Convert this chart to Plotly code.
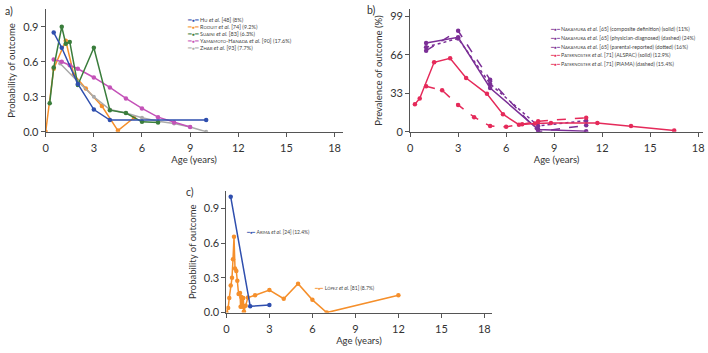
import plotly.graph_objects as go

# ---------------- Panel a data ----------------
hu_x = [0.5, 1, 2, 3, 4, 10]
hu_y = [0.85, 0.72, 0.41, 0.19, 0.10, 0.10]
roduit_x = [0, 0.5, 1.25, 1.75, 2.5, 3.5, 4.5, 5.5]
roduit_y = [0.0, 0.54, 0.78, 0.49, 0.37, 0.22, 0.01, 0.12]
suaini_x = [0.25, 0.5, 1, 1.25, 1.5, 2, 3, 4, 5, 6, 7]
suaini_y = [0.245, 0.55, 0.90, 0.755, 0.77, 0.40, 0.72, 0.185, 0.16, 0.085, 0.08]
yama_x = [0.5, 1, 1.5, 2, 3, 4, 5, 6, 7, 8, 9]
yama_y = [0.62, 0.60, 0.57, 0.54, 0.465, 0.38, 0.285, 0.20, 0.125, 0.08, 0.04]
zhab_x = [0.9, 2, 3, 4, 5, 6, 7, 8, 9, 10]
zhab_y = [0.585, 0.43, 0.30, 0.19, 0.16, 0.12, 0.09, 0.07, 0.04, 0.0]

# ---------------- Panel b data ----------------
nak_x = [1, 3, 5, 8, 11]
nak_composite = [76, 81, 37.5, 2, 0.5]
nak_physician = [69.5, 86.5, 44.5, 0, 5.5]
nak_parental = [72.5, 80, 41, 5, 9.5]
alspac_x = [0.3, 0.6, 1.5, 2.5, 3.5, 4.8, 5.8, 6.8, 7.8, 8.8, 11.7, 13.8, 16.5]
alspac_y = [23.5, 28.5, 59.5, 63, 46, 32.5, 15, 6, 7, 7.5, 7.5, 4.8, 1]
piama_x = [1, 2, 3, 4, 5, 6, 7, 8, 11]
piama_y = [39, 35.5, 23, 12.5, 4.8, 4.2, 6.5, 9, 12]

# ---------------- Panel c data ----------------
arima_x = [0.3, 1.66, 3]
arima_y = [1.0, 0.055, 0.065]
lopez_x = [0, 0.12, 0.2, 0.3, 0.39, 0.46, 0.53, 0.6, 0.69, 0.76, 0.85, 0.95, 0.99,
           1.04, 1.1, 1.18, 1.22, 1.34, 1.5, 2, 3, 4, 5, 6, 7, 12]
lopez_y = [0.0, 0.04, 0.127, 0.235, 0.30, 0.46, 0.655, 0.38, 0.36, 0.275, 0.16, 0.17, 0.05,
           0.135, 0.05, 0.127, 0.01, 0.06, 0.13, 0.15, 0.195, 0.12, 0.25, 0.11, 0.0, 0.15]

x_ticks = [0, 3, 6, 9, 12, 15, 18]
prob_ticks = [0.0, 0.3, 0.6, 0.9]
prev_ticks = [0, 33, 66, 99]

BLUE = "#2f4fae"
ORANGE = "#f58f2b"
GREEN = "#3a7d3c"
MAGENTA = "#c452b8"
GRAY = "#a9a9a9"
PURPLE = "#7b2f96"
RED = "#e52a5a"

FONT = "Lato, 'Source Sans Pro', sans-serif"
W, H = 708, 353


def sc(name, small):
    """Emulate small caps."""
    out = []
    for word in name.split("-"):
        out.append(word[0] + f"<span style='font-size:{small}px'>{word[1:].upper()}</span>")
    return "-".join(out)


def label(name, rest, small):
    return sc(name, small) + f" <i>et al.</i> {rest}"


fig = go.Figure()


def add(x, y, color, xa, ya, dash="solid", size=4.5, symbol="circle"):
    fig.add_trace(go.Scatter(
        x=x, y=y, mode="lines+markers", xaxis=xa, yaxis=ya,
        line=dict(color=color, width=1.5, dash=dash),
        marker=dict(color=color, size=size, symbol=symbol),
        showlegend=False, hoverinfo="x+y"))


# panel a
add(roduit_x, roduit_y, ORANGE, "x", "y")
add(zhab_x, zhab_y, GRAY, "x", "y", size=4)
add(yama_x, yama_y, MAGENTA, "x", "y")
add(suaini_x, suaini_y, GREEN, "x", "y")
add(hu_x, hu_y, BLUE, "x", "y")
# panel b
add(nak_x, nak_composite, PURPLE, "x2", "y2")
add(nak_x, nak_physician, PURPLE, "x2", "y2", dash="dash")
add(nak_x, nak_parental, PURPLE, "x2", "y2", dash="dot")
add(alspac_x, alspac_y, RED, "x2", "y2")
add(piama_x, piama_y, RED, "x2", "y2", dash="dash")
# panel c
add(lopez_x, lopez_y, ORANGE, "x3", "y3")
add(arima_x, arima_y, BLUE, "x3", "y3")


def px_x(px):
    return px / W


def px_y(py):
    return 1 - py / H


axis_common = dict(showline=True, linecolor="#555", linewidth=1, ticks="outside",
                   ticklen=4, tickcolor="#555", showgrid=False, zeroline=False,
                   ticklabeloverflow="allow",
                   tickfont=dict(size=11, color="#333", family=FONT),
                   title_font=dict(size=9.5, color="#333", family=FONT))
xa_extra = dict(ticklabelstandoff=2)

ya_dom = [px_y(134), px_y(9.4)]
fig.update_layout(
    width=W, height=H, margin=dict(l=0, r=0, t=0, b=0),
    paper_bgcolor="white", plot_bgcolor="white",
    font=dict(family=FONT, color="#333"),
    showlegend=False,
    xaxis=dict(domain=[px_x(43), px_x(342)], range=[0, 18.5], tickvals=x_ticks,
               anchor="y", title=dict(text="Age (years)", standoff=3), **axis_common, **xa_extra),
    yaxis=dict(domain=ya_dom, range=[0, 1.05], tickvals=prob_ticks, tickformat=".1f",
               anchor="x", title=dict(text="Probability of outcome", standoff=5), **axis_common),
    xaxis2=dict(domain=[px_x(410), px_x(705)], range=[0, 18.3], tickvals=x_ticks,
                anchor="y2", title=dict(text="Age (years)", standoff=3), **axis_common, **xa_extra),
    yaxis2=dict(domain=ya_dom, range=[0, 105], tickvals=prev_ticks,
                anchor="x2", title=dict(text="Prevalence of outcome (%)", standoff=5,
                                        font=dict(size=9)), **axis_common),
    xaxis3=dict(domain=[px_x(225), px_x(492)], range=[0, 18.5], tickvals=x_ticks,
                anchor="y3", title=dict(text="Age (years)", standoff=3), **axis_common, **xa_extra),
    yaxis3=dict(domain=[px_y(318), px_y(194.3)], range=[0, 1.05], tickvals=prob_ticks,
                tickformat=".1f", anchor="x3",
                title=dict(text="Probability of outcome", standoff=5), **axis_common),
)

# panel labels
for txt, x, y in [("a)", 0, 3), ("b)", 365, 2), ("c)", 182, 187)]:
    fig.add_annotation(text=txt, x=px_x(x), y=px_y(y), xref="paper", yref="paper",
                       xanchor="left", yanchor="top", showarrow=False,
                       font=dict(size=10.5, family=FONT, color="#333"))


# legend entries (annotation-based to match compact symbols)
def legend_entry(text, color, x, y, size):
    sym = f"<span style='color:{color}'>━<span style='font-size:{size-1}px'>●</span>━</span>"
    fig.add_annotation(text=sym + " " + text, x=px_x(x), y=px_y(y), xref="paper", yref="paper",
                       xanchor="left", yanchor="middle", showarrow=False,
                       font=dict(size=size, family=FONT, color="#444"))


leg_a = [
    ("Hu", "[48] (8%)", BLUE),
    ("Roduit", "[74] (9.2%)", ORANGE),
    ("Suaini", "[83] (6.3%)", GREEN),
    ("Yamamoto-Hanada", "[90] (17.6%)", MAGENTA),
    ("Zhab", "[93] (7.7%)", GRAY),
]
for i, (n, r, c) in enumerate(leg_a):
    legend_entry(label(n, r, 4.3), c, 183, 20.7 + 7 * i, 5.5)

leg_b = [
    ("Nakamura", "[65] (composite definition) (solid) (11%)", PURPLE),
    ("Nakamura", "[65] (physician-diagnosed) (dashed) (24%)", PURPLE),
    ("Nakamura", "[65] (parental-reported) (dotted) (16%)", PURPLE),
    ("Paternoster", "[71] (ALSPAC) (solid) (12.9%)", RED),
    ("Paternoster", "[71] (PIAMA) (dashed) (15.4%)", RED),
]
for i, (n, r, c) in enumerate(leg_b):
    legend_entry(label(n, r, 4.2), c, 549, 30 + 8.7 * i, 5.3)

legend_entry(label("Arima", "[24] (12.4%)", 4), BLUE, 243, 236, 5)
legend_entry(label("López", "[81] (8.7%)", 4), ORANGE, 311, 293, 5)

fig.write_html("out.html", config={"displayModeBar": False},
               post_script="document.body.style.margin='0';document.body.style.overflow='hidden';")
